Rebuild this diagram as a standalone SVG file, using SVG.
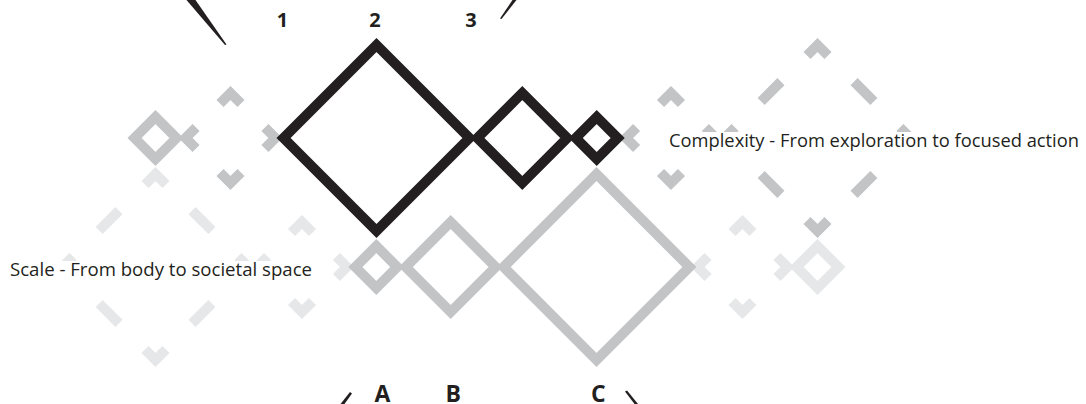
<svg xmlns="http://www.w3.org/2000/svg" width="1086" height="404" viewBox="0 0 1086 404">
<style>
.blk{fill:none;stroke:#231f20;stroke-width:10;stroke-linejoin:miter;stroke-miterlimit:10}
.gry{fill:none;stroke:#c3c4c6;stroke-width:10;stroke-linejoin:miter;stroke-miterlimit:10}
.lgt{fill:none;stroke:#e6e7e8;stroke-width:10;stroke-linejoin:miter;stroke-miterlimit:10}
.wedge{fill:#231f20}
.num{font-family:"Open Sans","Liberation Sans",sans-serif;font-weight:bold;fill:#231f20;text-anchor:middle}
.cap{font-family:"Open Sans","Liberation Sans",sans-serif;font-size:18px;fill:#231f20}
</style>
<rect width="1086" height="404" fill="#ffffff"/>
<g id="pattern-upper">
<path class="gry" d="M155.5,117.07 L176.43,138 L155.5,158.93 L134.57,138 Z"/>
<path class="gry" d="M220,103.57 L230.5,93.07 L241,103.57 M220,172.43 L230.5,182.93 L241,172.43 M196.07,127.5 L185.57,138 L196.07,148.5 M264.93,127.5 L275.43,138 L264.93,148.5"/>
<path class="gry" d="M660.5,103.57 L671,93.07 L681.5,103.57 M660.5,172.43 L671,182.93 L681.5,172.43 M636.57,127.5 L626.07,138 L636.57,148.5 M705.43,127.5 L715.93,138 L705.43,148.5"/>
<path class="gry" d="M807,55.57 L817.5,45.07 L828,55.57 M807,220.43 L817.5,230.93 L828,220.43 M735.07,127.5 L724.57,138 L735.07,148.5 M899.93,127.5 L910.43,138 L899.93,148.5 M761.13,101.43 L780.93,81.63 M854.07,81.63 L873.87,101.43 M761.13,174.57 L780.93,194.37 M854.07,194.37 L873.87,174.57"/>
</g>
<g id="pattern-lower">
<path class="lgt" d="M145,184.57 L155.5,174.07 L166,184.57 M145,349.43 L155.5,359.93 L166,349.43 M73.07,256.5 L62.57,267 L73.07,277.5 M237.93,256.5 L248.43,267 L237.93,277.5 M99.13,230.43 L118.93,210.63 M192.07,210.63 L211.87,230.43 M99.13,303.57 L118.93,323.37 M192.07,323.37 L211.87,303.57"/>
<path class="lgt" d="M291.5,232.57 L302,222.07 L312.5,232.57 M291.5,301.43 L302,311.93 L312.5,301.43 M267.57,256.5 L257.07,267 L267.57,277.5 M336.43,256.5 L346.93,267 L336.43,277.5"/>
<path class="lgt" d="M732,232.57 L742.5,222.07 L753,232.57 M732,301.43 L742.5,311.93 L753,301.43 M708.07,256.5 L697.57,267 L708.07,277.5 M776.93,256.5 L787.43,267 L776.93,277.5"/>
<path class="lgt" d="M817.5,246.07 L838.43,267 L817.5,287.93 L796.57,267 Z"/>
</g>
<g id="scale-1"><path class="gry" d="M376.3,246.07 L397.23,267 L376.3,287.93 L355.37,267 Z"/></g>
<g id="scale-2"><path class="gry" d="M450.7,222.07 L495.63,267 L450.7,311.93 L405.77,267 Z"/></g>
<g id="scale-3"><path class="gry" d="M596.5,174.07 L689.43,267 L596.5,359.93 L503.57,267 Z"/></g>
<g id="complexity-1"><path class="blk" d="M376.5,45.07 L469.43,138 L376.5,230.93 L283.57,138 Z"/></g>
<g id="complexity-2"><path class="blk" d="M522.3,93.07 L567.23,138 L522.3,182.93 L477.37,138 Z"/></g>
<g id="complexity-3"><path class="blk" d="M596.7,117.07 L617.63,138 L596.7,158.93 L575.77,138 Z"/></g>
<g id="connectors">
<polygon class="wedge" points="186.5,0 195.5,0 226.5,44.5 225,45"/>
<polygon class="wedge" points="512.5,0 516.5,0 501.5,19 500,18.5"/>
<polygon class="wedge" points="350,392 352,393.5 344.5,404 340.5,404"/>
<polygon class="wedge" points="625,391.5 627,390.5 638,404 634.5,404"/>
</g>
<g id="label-complexity">
<rect x="664" y="132" width="422" height="22" fill="#ffffff"/>
<text class="cap" x="669" y="147" textLength="410" lengthAdjust="spacingAndGlyphs">Complexity - From exploration to focused action</text>
</g>
<g id="label-scale">
<rect x="5" y="261" width="312" height="22" fill="#ffffff"/>
<text class="cap" x="10" y="275.5" textLength="302" lengthAdjust="spacingAndGlyphs">Scale - From body to societal space</text>
</g>
<g id="labels-numbers">
<text class="num" x="282.5" y="27" font-size="20">1</text>
<text class="num" x="375" y="27" font-size="20">2</text>
<text class="num" x="471" y="27" font-size="20">3</text>
</g>
<g id="labels-letters">
<text class="num" x="382.5" y="401.5" font-size="23">A</text>
<text class="num" x="453.3" y="401.5" font-size="23">B</text>
<text class="num" x="598.3" y="401.5" font-size="23">C</text>
</g>
</svg>
